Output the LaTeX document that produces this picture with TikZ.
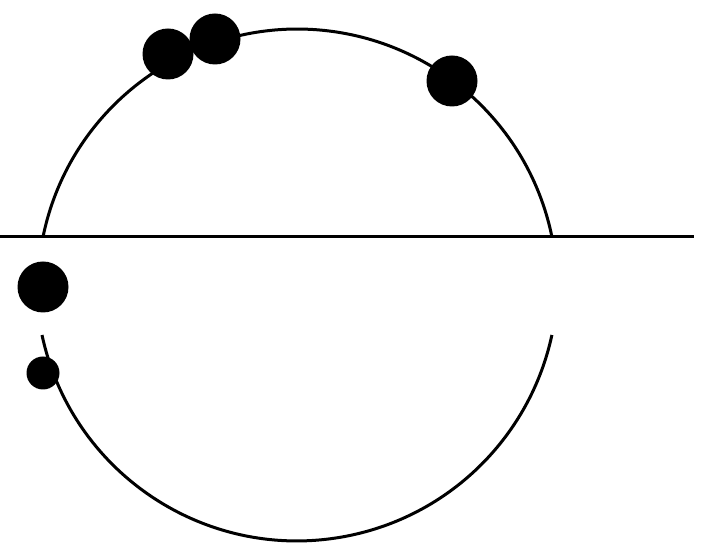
\documentclass[tikz,border=0pt]{standalone}
\begin{document}
\begin{tikzpicture}[x=1pt,y=1pt,line width=3pt,
  bigdot/.style={circle,fill=black,draw=none,inner sep=0pt,minimum size=51pt},
  smalldot/.style={circle,fill=black,draw=none,inner sep=0pt,minimum size=33pt}]
\useasboundingbox (0,0) rectangle (707,556);
% horizontal line
\coordinate (hl) at (0,319);
\coordinate (hr) at (694,319);
\draw (hl) -- (hr);
% upper arc
\draw (43,319) arc[start angle=168.5, end angle=11.5, radius=259.7];
% lower arc
\draw (42,221) arc[start angle=192.15, end angle=347.85, radius=260.8];
% dots
\node[bigdot] (d1) at (168,502) {};
\node[bigdot] (d2) at (215,517) {};
\node[bigdot] (d3) at (452,475) {};
\node[bigdot] (d4) at (43,269) {};
\node[smalldot] (d5) at (43,183) {};
\end{tikzpicture}
\end{document}
